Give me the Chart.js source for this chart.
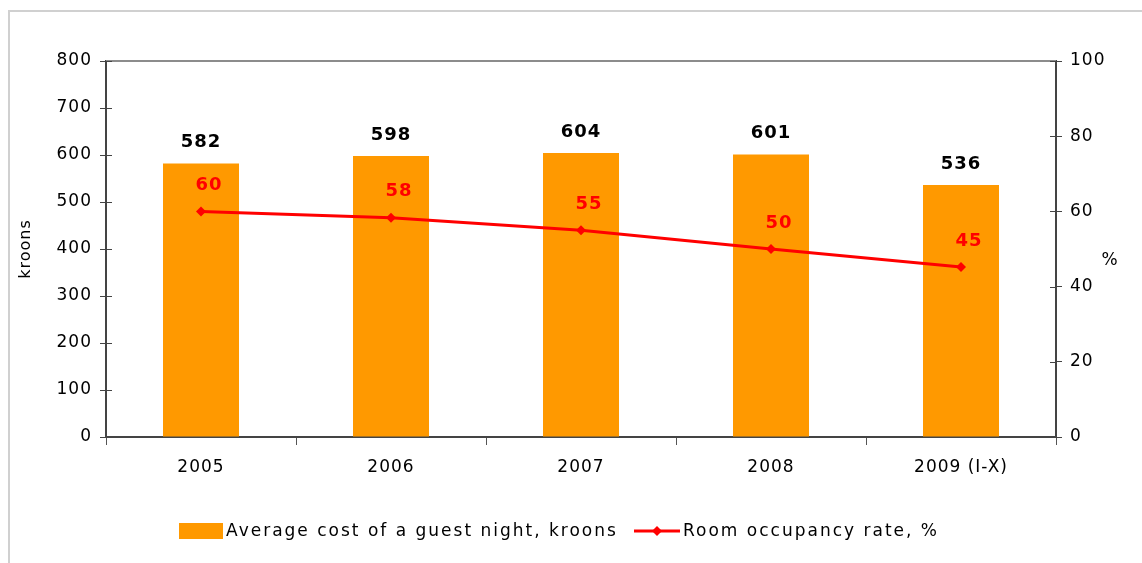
<!DOCTYPE html>
<html>
<head>
<meta charset="utf-8">
<script src="https://cdn.jsdelivr.net/npm/chart.js@4/dist/chart.umd.min.js"></script>
<style>
	html, body { margin: 0; padding: 0; background: #fff; }
	#wrap { position: relative; width: 1142px; height: 563px; }
</style>
</head>
<body>
<div id="wrap"><canvas id="chart-guest-nights" width="1142" height="563"></canvas></div>
<script>
// chart data
var years = ["2005", "2006", "2007", "2008", "2009 (I-X)"];
var avgCost = [582, 598, 604, 601, 536];
var occupancy = [60, 58.3, 55, 50, 45.2];
var occupancyLabels = ["60", "58", "55", "50", "45"];
var costName = "Average cost of a guest night, kroons";
var occupancyName = "Room occupancy rate, %";

var FONT = "'DejaVu Sans', Verdana, sans-serif";

// frame, value labels, "%" title and legend
var decorations = {
	id: "decorations",
	beforeDraw: function(chart)
	{
		let ctx = chart.ctx;
		ctx.save();
		ctx.fillStyle = "#fff";
		ctx.fillRect(0, 0, chart.width, chart.height);
		ctx.strokeStyle = "#d0d0d0";
		ctx.lineWidth = 2;
		ctx.strokeRect(9, 11, chart.width + 20, chart.height + 20);
		ctx.restore();
		// the tick labels in the original are slightly spaced out
		ctx.letterSpacing = "1px";
	},
	afterDraw: function(chart)
	{
		let ctx = chart.ctx;
		let area = chart.chartArea;
		ctx.save();

		// top line of the plot area
		ctx.strokeStyle = "#8c8c8c";
		ctx.lineWidth = 2;
		ctx.beginPath();
		ctx.moveTo(area.left, area.top);
		ctx.lineTo(area.right, area.top);
		ctx.stroke();

		// inner half of the y tick marks
		ctx.strokeStyle = "#444";
		ctx.lineWidth = 1;
		["y", "y1"].forEach(function(id)
		{
			let sc = chart.scales[id];
			let x0 = id === "y" ? area.left : area.right;
			let dir = id === "y" ? 1 : -1;
			sc.ticks.forEach(function(t)
			{
				let py = Math.round(sc.getPixelForValue(t.value)) + 0.5;
				ctx.beginPath();
				ctx.moveTo(x0, py);
				ctx.lineTo(x0 + dir * 6, py);
				ctx.stroke();
			});
		});

		// bar values
		ctx.letterSpacing = "1px";
		ctx.font = "bold 18px " + FONT;
		ctx.textAlign = "center";
		ctx.textBaseline = "middle";
		ctx.fillStyle = "#000";
		chart.getDatasetMeta(0).data.forEach(function(bar, i)
		{
			ctx.fillText(String(avgCost[i]), bar.x, bar.y - 21);
		});

		// occupancy values
		ctx.fillStyle = "#ff0000";
		chart.getDatasetMeta(1).data.forEach(function(pt, i)
		{
			ctx.fillText(occupancyLabels[i], pt.x + 8, pt.y - 26);
		});

		// right axis title
		ctx.font = "17px " + FONT;
		ctx.fillStyle = "#000";
		ctx.fillText("%", 1110, 261);

		// legend
		let ly = 531;
		ctx.fillStyle = "#ff9900";
		ctx.fillRect(179, ly - 8, 44, 16);
		ctx.fillStyle = "#000";
		ctx.textAlign = "left";
		ctx.letterSpacing = "2px";
		ctx.font = "17px " + FONT;
		ctx.fillText(costName, 226, ly + 1);

		ctx.strokeStyle = "#ff0000";
		ctx.lineWidth = 3;
		ctx.beginPath();
		ctx.moveTo(634, ly);
		ctx.lineTo(680, ly);
		ctx.stroke();
		ctx.fillStyle = "#ff0000";
		ctx.beginPath();
		ctx.moveTo(657, ly - 5);
		ctx.lineTo(662, ly);
		ctx.lineTo(657, ly + 5);
		ctx.lineTo(652, ly);
		ctx.closePath();
		ctx.fill();
		ctx.fillStyle = "#000";
		ctx.fillText(occupancyName, 683, ly + 1);

		ctx.restore();
	}
};

new Chart("chart-guest-nights", {
	type: "bar",
	data: {
		labels: years,
		datasets: [
			{
				type: "bar",
				label: costName,
				data: avgCost,
				backgroundColor: "#ff9900",
				borderWidth: 0,
				categoryPercentage: 1,
				barPercentage: 0.4,
				yAxisID: "y",
				order: 2
			},
			{
				type: "line",
				label: occupancyName,
				data: occupancy,
				borderColor: "#ff0000",
				backgroundColor: "#ff0000",
				borderWidth: 3,
				pointStyle: "rectRot",
				pointRadius: 5,
				pointBorderWidth: 0,
				tension: 0,
				yAxisID: "y1",
				order: 1
			}
		]
	},
	options: {
		responsive: false,
		animation: false,
		devicePixelRatio: 1,
		layout: { padding: { left: 10, right: 0, top: 61, bottom: 0 } },
		plugins: {
			legend: { display: false },
			tooltip: { enabled: false }
		},
		scales: {
			x: {
				grid: { display: true, offset: true, drawOnChartArea: false, tickLength: 8, color: "#555", lineWidth: 1 },
				border: { display: true, color: "#444", width: 2 },
				ticks: { color: "#000", font: { family: FONT, size: 17 }, padding: 12, maxRotation: 0 },
				afterFit: function(scale) { scale.height = 126; }
			},
			y: {
				position: "left",
				min: 0,
				max: 800,
				ticks: { stepSize: 100, color: "#000", font: { family: FONT, size: 17 }, padding: 8 },
				grid: { display: true, drawOnChartArea: false, tickLength: 6, color: "#444" },
				border: { display: true, color: "#444", width: 2 },
				title: { display: true, text: "kroons", color: "#000", font: { family: FONT, size: 16 }, padding: { top: 6, bottom: 0 } },
				afterFit: function(scale) { scale.width = 96; }
			},
			y1: {
				position: "right",
				min: 0,
				max: 100,
				ticks: { stepSize: 20, color: "#000", font: { family: FONT, size: 17 }, padding: 8 },
				grid: { display: true, drawOnChartArea: false, tickLength: 6, color: "#444" },
				border: { display: true, color: "#444", width: 2 },
				afterFit: function(scale) { scale.width = 86; }
			}
		}
	},
	plugins: [decorations]
});
</script>
</body>
</html>
